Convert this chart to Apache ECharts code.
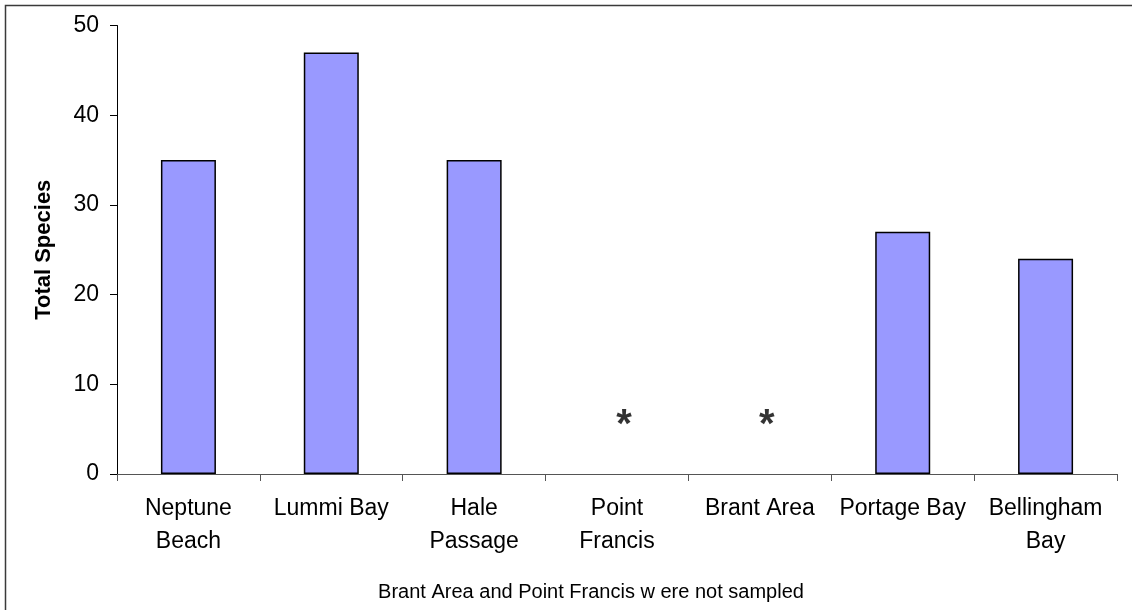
<!DOCTYPE html>
<html>
<head>
<meta charset="utf-8">
<title>Total Species by Site</title>
<script src="https://cdn.jsdelivr.net/npm/echarts@6/dist/echarts.min.js"></script>
<style>
  html, body { margin: 0; padding: 0; background: #fff; }
  #chart { width: 1132px; height: 610px; }
</style>
</head>
<body>
<div id="chart"></div>
<script>
// Sites along the x axis (line breaks as they wrap under the ticks)
const sites = ['Neptune\nBeach', 'Lummi Bay', 'Hale\nPassage', 'Point\nFrancis', 'Brant Area', 'Portage Bay', 'Bellingham\nBay'];
// Total species counted per site; null where the site was not sampled
const totalSpecies = [35, 47, 35, null, null, 27, 24];
// Height at which the "not sampled" asterisk sits for unsampled sites
const notSampledMarks = [null, null, null, 6, 6, null, null];
// Value axis ticks
const yMin = 0;
const yMax = 50;
const yStep = 10;
const footnote = 'Brant Area and Point Francis w ere not sampled';

const FONT = '"Liberation Sans", Arial, Helvetica, sans-serif';

const chart = echarts.init(document.getElementById('chart'), null, { renderer: 'canvas' });

chart.setOption({
  animation: false,
  backgroundColor: '#ffffff',
  grid: { left: 117, right: 15, top: 25.5, bottom: 136, containLabel: false },
  xAxis: {
    type: 'category',
    data: sites,
    boundaryGap: true,
    axisLine: { show: true, lineStyle: { color: '#555555', width: 1 } },
    axisTick: { show: true, length: 7, alignWithLabel: false, lineStyle: { color: '#555555', width: 1 } },
    axisLabel: {
      interval: 0,
      margin: 18,
      color: '#000',
      fontFamily: FONT,
      fontSize: 23,
      lineHeight: 33,
      align: 'center'
    },
    splitLine: { show: false }
  },
  yAxis: {
    type: 'value',
    min: yMin,
    max: yMax,
    interval: yStep,
    name: 'Total Species',
    nameLocation: 'middle',
    nameRotate: 90,
    nameGap: 62,
    nameTextStyle: { color: '#000', fontFamily: FONT, fontSize: 22, fontWeight: 'bold' },
    axisLine: { show: true, lineStyle: { color: '#000', width: 1 } },
    axisTick: { show: true, inside: false, length: 7, lineStyle: { color: '#000', width: 1 } },
    axisLabel: { margin: 18, color: '#000', fontFamily: FONT, fontSize: 23 },
    splitLine: { show: false }
  },
  series: [
    {
      name: 'Total Species',
      type: 'bar',
      data: totalSpecies,
      barWidth: 55,
      itemStyle: { color: '#9999FF', borderColor: '#000', borderWidth: 1.5 }
    },
    {
      name: 'Not sampled',
      type: 'scatter',
      data: notSampledMarks,
      symbolSize: 0,
      silent: true,
      label: {
        show: true,
        position: 'inside',
        formatter: '*',
        color: '#000',
        fontFamily: FONT,
        fontSize: 40,
        fontWeight: 'bold',
        offset: [7, 6]
      }
    }
  ],
  graphic: [
    {
      type: 'rect',
      shape: { x: 5.5, y: 5.5, width: 1140, height: 620 },
      style: { fill: 'none', stroke: '#3a3a3a', lineWidth: 1.5 },
      silent: true,
      z: -1
    },
    {
      type: 'text',
      x: 591,
      y: 592,
      style: {
        text: footnote,
        fill: '#000',
        font: '20px ' + FONT,
        textAlign: 'center',
        textVerticalAlign: 'middle'
      }
    }
  ]
});
</script>
</body>
</html>
